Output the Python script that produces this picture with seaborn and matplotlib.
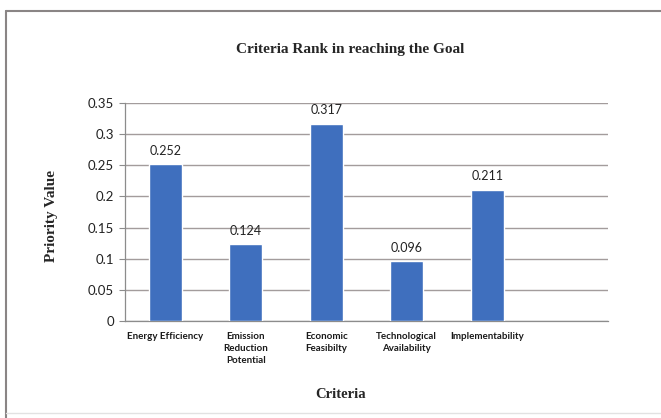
import numpy as np
import pandas as pd
import matplotlib
matplotlib.use("Agg")
import matplotlib.pyplot as plt
import seaborn as sns
from matplotlib.lines import Line2D

# Criteria weights
criteria = ["Energy Efficiency", "Emission\nReduction\nPotential", "Economic\nFeasibilty",
            "Technological\nAvailability", "Implementability"]
priority = [0.252, 0.124, 0.317, 0.096, 0.211]
y_ticks = [0, 0.05, 0.1, 0.15, 0.2, 0.25, 0.3, 0.35]

df = pd.DataFrame({"Criteria": criteria, "Priority": priority})

sns.set_theme(style="white")
plt.rcParams["font.family"] = ["Lato", "DejaVu Sans"]

fig = plt.figure(figsize=(6.61, 4.18), dpi=100)
ax = fig.add_axes([125 / 661, 1 - 321 / 418, (608 - 125) / 661, (321 - 103) / 418])

bar_color = "#3f6fbe"
sns.barplot(data=df, x="Criteria", y="Priority", color=bar_color, width=0.41,
            saturation=1, ax=ax, zorder=3)

ax.set_xlim(-0.5, 5.5)
ax.set_ylim(0, 0.35)
ax.set_yticks(y_ticks)
ax.set_yticklabels([f"{v:g}" for v in y_ticks], fontsize=9.5, color="#222222")
ax.yaxis.grid(True, color="#a39c9c", linewidth=1, zorder=0)
ax.xaxis.grid(False)

ax.set_xticks(range(len(criteria)))
ax.set_xticklabels(criteria, fontsize=7, fontweight="bold", color="#1a1a1a",
                   linespacing=1.4, va="top")
ax.tick_params(axis="x", length=0, pad=8)
ax.set_xticks(np.arange(-0.5, 6, 1), minor=True)
ax.tick_params(axis="x", which="minor", length=4, color="#8c8c8c", width=0.8)
ax.tick_params(axis="y", length=4, color="#8c8c8c", width=0.8, pad=4, left=True)

for s in ["top", "right"]:
    ax.spines[s].set_visible(False)
for s in ["left", "bottom"]:
    ax.spines[s].set_color("#8c8c8c")
    ax.spines[s].set_linewidth(0.9)

for i, v in enumerate(priority):
    ax.annotate(f"{v:.3f}", (i, v), xytext=(0, 9.5), textcoords="offset points",
                ha="center", va="center", fontsize=9, color="#222222")

ax.set_xlabel("")
ax.set_ylabel("")
fig.text(52 / 661, 1 - 216 / 418, "Priority Value", rotation=90, ha="center", va="center",
         fontsize=11, fontweight="bold", family="Liberation Serif")
fig.text(341 / 661, 1 - 394 / 418, "Criteria", ha="center", va="center",
         fontsize=10.5, fontweight="bold", family="Liberation Serif")
fig.text(350 / 661, 1 - 50 / 418, "Criteria Rank in reaching the Goal", ha="center",
         va="center", fontsize=11, fontweight="bold", family="Liberation Serif")

# outer chart frame
fig.add_artist(Line2D([6 / 661, 1], [1 - 11 / 418, 1 - 11 / 418], color="#8a8585", lw=1.5,
                      transform=fig.transFigure))
fig.add_artist(Line2D([6 / 661, 6 / 661], [1 - 11 / 418, 0], color="#8a8585", lw=1.5,
                      transform=fig.transFigure))
fig.add_artist(Line2D([6 / 661, 1], [1 - 413 / 418, 1 - 413 / 418], color="#e2e2e2", lw=1,
                      transform=fig.transFigure))

fig.savefig("out.png", dpi=100)
